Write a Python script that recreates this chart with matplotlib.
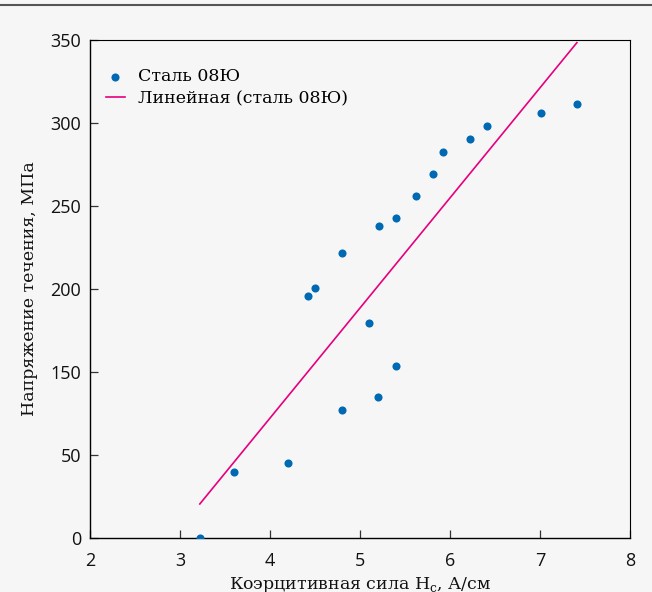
import matplotlib
matplotlib.use("Agg")
import matplotlib.pyplot as plt
from matplotlib.lines import Line2D

# Data (y in axis units where ticks sit every 50; tick labels as printed on the chart)
coercive_force = [3.22, 3.60, 4.20, 4.80, 5.20, 5.40, 5.10, 4.42, 4.50, 4.80,
                  5.21, 5.40, 5.62, 5.81, 5.92, 6.22, 6.41, 7.01, 7.41]
flow_stress = [0.0, 39.8, 45.2, 77.1, 84.9, 103.6, 129.5, 145.8, 150.6, 171.7,
               188.0, 192.8, 206.0, 219.3, 232.5, 240.4, 248.2, 256.0, 261.4]
trend_x = [3.22, 7.41]
trend_y = [20.5, 298.4]
y_tick_pos = [0, 50, 100, 150, 200, 250, 300]
y_tick_labels = ["0", "50", "150", "200", "250", "300", "350"]
x_ticks = [2, 3, 4, 5, 6, 7, 8]

bg = "#f6f6f6"
serif = "DejaVu Serif"
fig = plt.figure(figsize=(6.52, 5.92), dpi=100, facecolor=bg)
ax = fig.add_axes([90/652, (592-538)/592, 540/652, 498/592], facecolor=bg)

ax.scatter(coercive_force, flow_stress, s=34, color="#0069b4", zorder=3,
           label="Сталь 08Ю", linewidths=0)
ax.plot(trend_x, trend_y, color="#e6007e", lw=1.2, label="Линейная (сталь 08Ю)")

ax.set_xlim(2, 8)
ax.set_ylim(0, 300)
ax.set_xticks(x_ticks)
ax.set_yticks(y_tick_pos)
ax.set_yticklabels(y_tick_labels)

for lab in ax.get_xticklabels() + ax.get_yticklabels():
    lab.set_fontfamily("Open Sans")
    lab.set_fontsize(13)
ax.tick_params(direction="in", length=5.5, width=0.9, color="#333333",
               labelcolor="#111111")
ax.tick_params(axis="y", pad=6.5)
ax.tick_params(axis="x", pad=10)
for side in ["top", "right"]:
    ax.spines[side].set_linewidth(0.8)
for side in ["left", "bottom"]:
    ax.spines[side].set_linewidth(1.0)

ax.set_xlabel("Коэрцитивная сила H$_\\mathregular{c}$, А/см", family=serif,
              fontsize=12.5, labelpad=4, color="#111111")
ax.set_ylabel("Напряжение течения, МПа", family=serif,
              fontsize=12.5, labelpad=9, color="#111111")

leg = ax.legend(loc="upper left", bbox_to_anchor=(0.0, 0.975), frameon=False,
                prop=dict(family=serif, size=12.5),
                handlelength=1.1, handletextpad=0.75, labelspacing=0.3,
                scatterpoints=1)

fig.add_artist(Line2D([0, 1], [1 - 5/592, 1 - 5/592], color="#555555", lw=1.5,
                      transform=fig.transFigure))

fig.savefig("out.png", dpi=100, facecolor=bg)
